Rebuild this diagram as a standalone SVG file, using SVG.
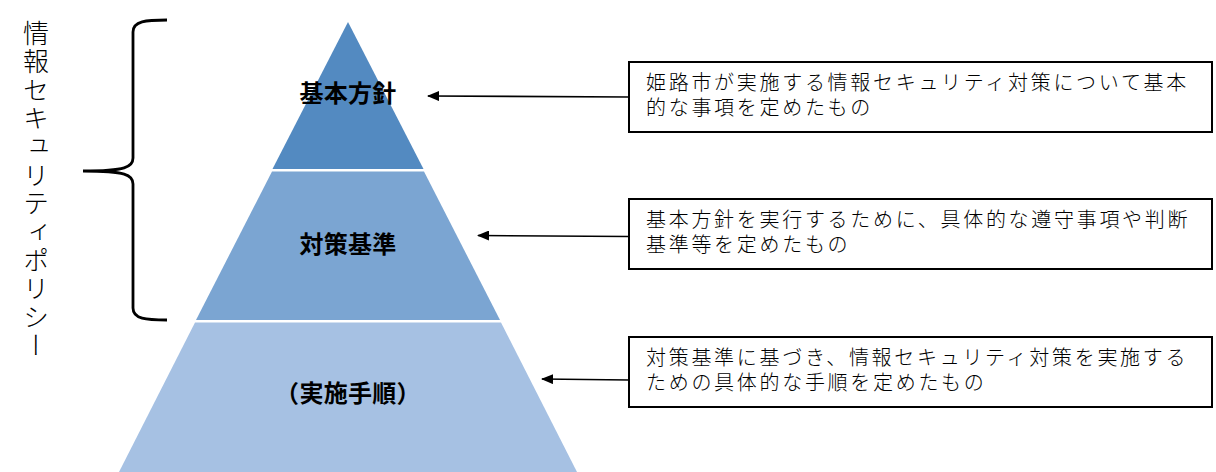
<svg xmlns="http://www.w3.org/2000/svg" width="1216" height="472" viewBox="0 0 1216 472">
<style>
  .lvl { font-family: "Noto Sans CJK JP", "Noto Sans CJK SC", sans-serif; font-weight: bold; font-size: 24px; letter-spacing: 0.3px; fill: #000; text-anchor: middle; }
  .desc { font-family: "Noto Sans CJK JP", "Noto Sans CJK SC", sans-serif; font-weight: 300; font-size: 20px; letter-spacing: 2.7px; fill: #000; }
  .box { fill: #fff; stroke: #000; stroke-width: 2; }
  .conn { stroke: #000; stroke-width: 1.6; fill: none; }
</style>
<defs>
  <marker id="arr" viewBox="0 0 12 10" refX="11" refY="5" markerWidth="12" markerHeight="10" markerUnits="userSpaceOnUse" orient="auto">
    <path d="M0,0 L12,5 L0,10 Z" fill="#000"/>
  </marker>
</defs>
<rect width="1216" height="472" fill="#fff"/>

<g id="label-policy">
  <text x="36" y="20" style="writing-mode: vertical-rl; font-family: 'Noto Sans CJK JP', 'Noto Sans CJK SC', sans-serif; font-weight: 300; font-size: 26px; letter-spacing: 2.4px; fill: #000;">情報セキュリティポリシー</text>
</g>

<g id="brace">
  <path d="M167,20 C146,20 133,21 133,32 L133,158 C133,167 126,171 83,171 C126,171 133,175 133,184 L133,308 C133,319 146,320 167,320" fill="none" stroke="#000" stroke-width="2.8"/>
</g>

<g id="tier-kihon">
  <polygon points="348,22 423.5,169 272.5,169" fill="#538ac1"/>
  <text class="lvl" x="348" y="102">基本方針</text>
</g>
<g id="tier-taisaku">
  <polygon points="272,171.5 424,171.5 500,320 196,320" fill="#7ba5d2"/>
  <text class="lvl" x="348" y="253">対策基準</text>
</g>
<g id="tier-jisshi">
  <polygon points="195,322.5 501,322.5 577,472 119,472" fill="#a6c1e3"/>
  <text class="lvl" x="348" y="402">（実施手順）</text>
</g>

<g id="box-kihon">
  <rect class="box" x="629" y="62" width="583" height="70"/>
  <text class="desc" x="646" y="90">姫路市が実施する情報セキュリティ対策について基本</text>
  <text class="desc" x="646" y="115">的な事項を定めたもの</text>
</g>
<g id="box-taisaku">
  <rect class="box" x="629" y="199" width="583" height="70"/>
  <text class="desc" x="646" y="227">基本方針を実行するために、具体的な遵守事項や判断</text>
  <text class="desc" x="646" y="252">基準等を定めたもの</text>
</g>
<g id="box-jisshi">
  <rect class="box" x="629" y="337" width="583" height="70"/>
  <text class="desc" x="646" y="365">対策基準に基づき、情報セキュリティ対策を実施する</text>
  <text class="desc" x="646" y="390">ための具体的な手順を定めたもの</text>
</g>

<g id="connectors">
  <line class="conn" x1="629" y1="97" x2="428" y2="96" marker-end="url(#arr)"/>
  <line class="conn" x1="629" y1="236.5" x2="478" y2="235.5" marker-end="url(#arr)"/>
  <line class="conn" x1="629" y1="380" x2="542" y2="379" marker-end="url(#arr)"/>
</g>
</svg>
